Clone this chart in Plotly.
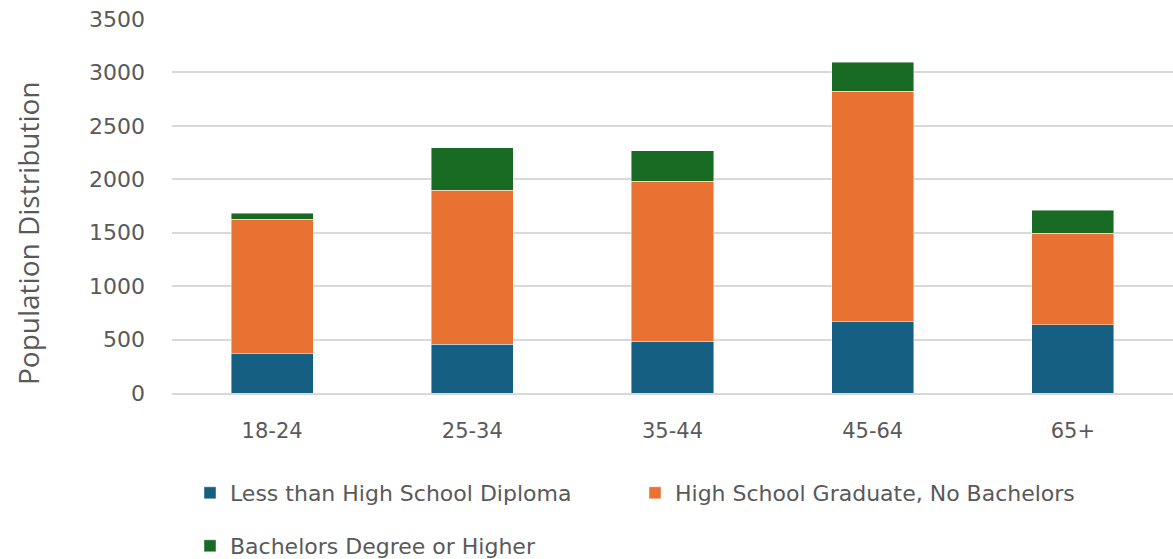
import plotly.graph_objects as go

# Age groups and population counts by education level
age_groups = ["18-24", "25-34", "35-44", "45-64", "65+"]
less_than_hs = [369, 456, 485, 666, 641]
hs_graduate = [1256, 1441, 1496, 2156, 853]
bachelors_plus = [56, 399, 284, 275, 216]

series_names = [
    "Less than High School Diploma",
    "High School Graduate, No Bachelors",
    "Bachelors Degree or Higher",
]
series_values = [less_than_hs, hs_graduate, bachelors_plus]
colors = ["#156082", "#E97132", "#196B24"]
legend_ids = ["legend", "legend2", "legend3"]

fig = go.Figure()
for name, vals, col, lg in zip(series_names, series_values, colors, legend_ids):
    fig.add_trace(go.Bar(
        x=age_groups, y=vals, name=name,
        marker=dict(color=col, line=dict(color="rgba(255,255,255,0.55)", width=0.8)),
        legend=lg,
    ))

text_grey = "#595959"
legend_font = dict(family="DejaVu Sans, sans-serif", size=22, color=text_grey)
leg_common = dict(font=legend_font, orientation="h",
                  xanchor="left", yanchor="middle", bgcolor="rgba(0,0,0,0)")


# legend positions in paper coordinates (plot area spans x 172..1173, y 19..393)
def px_x(x):
    return (x - 172) / 1001


def px_y(y):
    return (393 - y) / 374


fig.update_layout(
    width=1173, height=559,
    margin=dict(l=172, r=0, t=19, b=166, autoexpand=False),
    paper_bgcolor="white", plot_bgcolor="white",
    barmode="stack", bargap=0.59,
    font=dict(family="DejaVu Sans, sans-serif", color=text_grey),
    showlegend=True,
    legend=dict(x=px_x(190), y=px_y(493), **leg_common),
    legend2=dict(x=px_x(635), y=px_y(493), **leg_common),
    legend3=dict(x=px_x(190), y=px_y(546), **leg_common),
    xaxis=dict(
        type="category",
        showgrid=False, showline=True, linecolor="#d9d9d9", linewidth=1.6,
        ticks="", tickfont=dict(size=21, color=text_grey),
        ticklabelstandoff=18,
    ),
    yaxis=dict(
        range=[0, 3500], dtick=500, showgrid=True, gridcolor="#d9d9d9", gridwidth=1.6,
        zeroline=False, showline=False, ticks="",
        tickfont=dict(size=22, color=text_grey), ticklabelstandoff=26,
    ),
    annotations=[dict(
        text="Population Distribution", textangle=-90,
        xref="paper", yref="paper", x=px_x(28), y=px_y(233),
        xanchor="center", yanchor="middle", showarrow=False,
        font=dict(family="Open Sans, sans-serif", size=28, color=text_grey),
    )],
)

fig.write_html("out.html")
